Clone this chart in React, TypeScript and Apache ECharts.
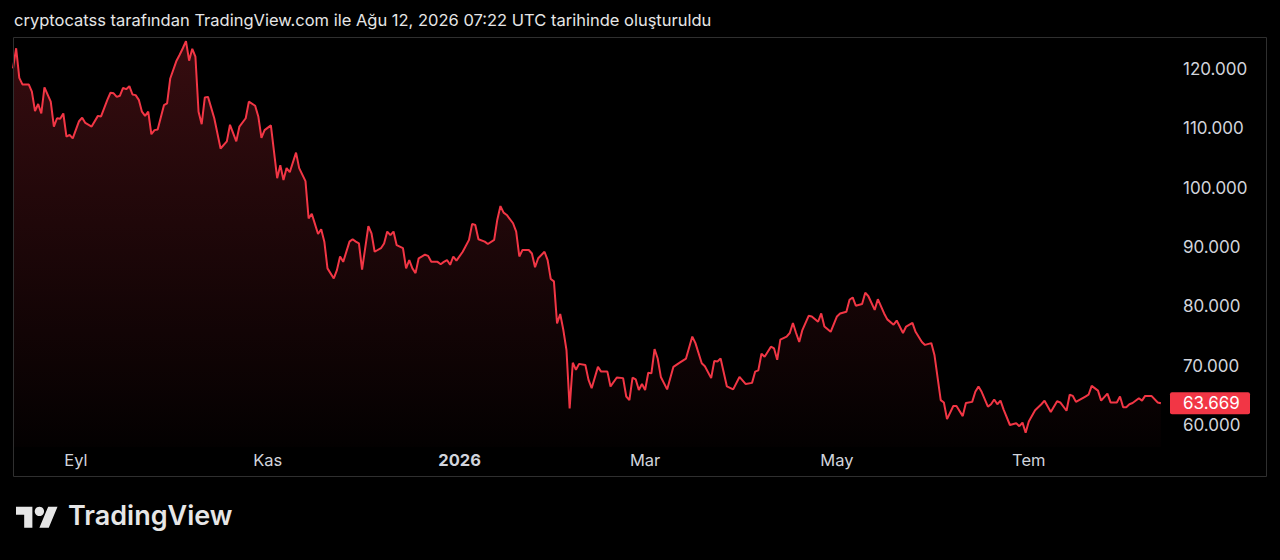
import React, { useEffect, useRef } from 'react';
import * as echarts from 'echarts';

const BASE = Date.UTC(2025, 7, 1);
const DAY = 86400000;

// days since 2025-08-01
const days = [
  11, 12, 13, 14, 16, 17, 18, 19, 20, 21,
  23, 24, 25, 26, 27, 28, 29, 30, 32, 33,
  34, 36, 38, 39, 41, 42, 43, 44, 45, 46,
  47, 48, 49, 50, 51, 52, 53, 54, 55, 56,
  57, 59, 60, 61, 63, 64, 65, 66, 67, 68,
  69, 70, 71, 72, 73, 75, 77, 79, 80, 82,
  83, 85, 86, 88, 89, 90, 91, 93, 95, 96,
  97, 98, 99, 101, 102, 104, 105, 106, 107, 108,
  109, 110, 111, 113, 114, 115, 116, 118, 119, 120,
  121, 122, 124, 125, 126, 128, 129, 130, 131, 132,
  133, 135, 136, 137, 138, 139, 140, 142, 143, 144,
  146, 147, 148, 149, 150, 151, 152, 154, 156, 157,
  158, 159, 161, 162, 164, 165, 166, 167, 168, 170,
  171, 172, 173, 175, 176, 177, 178, 180, 181, 182,
  183, 184, 185, 186, 187, 188, 189, 190, 191, 193,
  194, 195, 197, 198, 200, 201, 203, 205, 206, 207,
  208, 209, 210, 211, 212, 213, 214, 215, 216, 217,
  219, 221, 223, 225, 227, 228, 230, 231, 233, 234,
  235, 236, 238, 240, 242, 244, 246, 247, 248, 249,
  250, 252, 253, 254, 255, 257, 258, 259, 260, 261,
  262, 264, 265, 267, 268, 269, 271, 273, 274, 276,
  277, 278, 279, 281, 282, 283, 285, 286, 288, 289,
  291, 292, 294, 295, 297, 298, 300, 301, 303, 304,
  306, 307, 308, 310, 311, 313, 314, 316, 317, 318,
  319, 321, 322, 323, 324, 325, 326, 328, 330, 331,
  332, 333, 334, 336, 338, 339, 341, 343, 344, 346,
  347, 348, 349, 350, 352, 353, 354, 356, 357, 359,
  360, 362, 363, 364, 365, 366, 367, 369, 370, 371,
  373, 375, 376,
];

// price, thousands
const prices = [
  120.1, 123.5, 118.5, 117.4, 117.4, 116.2, 112.9, 114.1, 112.5, 116.9,
  114.5, 110.3, 111.7, 111.6, 112.5, 108.6, 108.9, 108.3, 111.2, 111.8,
  110.9, 110.3, 112.1, 112.0, 114.8, 116.0, 115.9, 115.3, 115.5, 116.8,
  116.6, 117.1, 115.7, 115.6, 114.8, 112.8, 112.1, 112.8, 109.0, 109.7,
  109.8, 113.9, 114.2, 118.4, 121.4, 122.4, 123.5, 124.7, 121.4, 123.4,
  122.1, 112.8, 110.7, 115.2, 115.3, 111.7, 106.6, 107.8, 110.6, 107.8,
  110.3, 111.7, 114.5, 113.8, 112.0, 108.4, 109.7, 110.5, 101.6, 103.8,
  101.3, 103.3, 102.6, 105.9, 103.3, 101.1, 94.8, 95.6, 93.9, 92.2,
  93.0, 90.9, 86.4, 84.7, 86.1, 88.4, 87.5, 90.9, 91.3, 90.9,
  90.6, 86.2, 93.5, 92.3, 89.2, 89.8, 90.6, 92.6, 92.0, 92.6,
  90.3, 89.8, 86.4, 87.8, 86.4, 85.6, 88.1, 88.7, 88.5, 87.5,
  87.5, 87.1, 87.5, 87.8, 87.0, 88.4, 87.7, 89.2, 91.2, 93.9,
  93.7, 91.3, 90.9, 90.5, 91.2, 94.6, 96.9, 95.8, 95.4, 94.0,
  92.6, 88.4, 89.5, 89.5, 88.9, 86.6, 88.1, 89.2, 87.8, 84.6,
  84.2, 77.1, 78.7, 76.0, 72.6, 62.8, 70.5, 69.3, 70.3, 70.1,
  67.6, 66.2, 69.8, 69.0, 69.0, 66.5, 68.0, 67.9, 64.8, 64.2,
  68.0, 67.7, 65.9, 66.9, 65.9, 68.8, 68.7, 72.8, 71.2, 68.1,
  66.0, 69.8, 70.5, 71.2, 74.9, 73.8, 70.4, 69.9, 67.9, 70.8,
  70.7, 71.2, 66.5, 66.0, 68.1, 66.9, 67.1, 69.0, 69.2, 72.0,
  71.5, 73.2, 72.9, 71.0, 74.4, 74.9, 75.5, 77.2, 75.5, 74.0,
  76.0, 78.4, 78.3, 77.4, 78.8, 76.6, 75.7, 78.3, 78.8, 79.1,
  81.1, 81.5, 80.1, 80.4, 82.3, 81.7, 79.4, 81.2, 78.8, 77.8,
  76.9, 77.6, 75.5, 76.6, 77.2, 75.7, 74.0, 73.5, 73.8, 71.8,
  64.2, 63.8, 61.0, 63.2, 63.2, 61.5, 63.7, 63.9, 65.6, 66.5,
  65.6, 63.1, 63.5, 64.3, 63.5, 64.1, 62.6, 60.0, 60.3, 59.8,
  60.4, 58.7, 60.6, 62.5, 63.5, 64.1, 62.2, 64.0, 63.8, 62.4,
  65.1, 64.9, 63.9, 64.2, 64.8, 65.1, 66.6, 65.8, 64.1, 65.3,
  63.8, 63.8, 64.8, 63.0, 63.0, 63.5, 63.7, 64.5, 64.1, 64.9,
  64.9, 63.8, 63.669,
];

const monthTicks = ['2025-09-01', '2025-11-01', '2026-01-01', '2026-03-01', '2026-05-01', '2026-07-01'];
const monthNames = ['Oca', 'Şub', 'Mar', 'Nis', 'May', 'Haz', 'Tem', 'Ağu', 'Eyl', 'Eki', 'Kas', 'Ara'];
const lastPrice = 63.669;
const title = 'cryptocatss tarafından TradingView.com ile Ağu 12, 2026 07:22 UTC tarihinde oluşturuldu';

const RED = '#f23645';
const FONT = 'Inter, "Noto Sans", sans-serif';
const LABEL = '#d1d4dc';
const AXIS_FONT = 17;

echarts.graphic.registerShape(
  'tvLogo',
  echarts.graphic.extendPath('M14 22H7V11H0V4h14v18zM28 22h-8l7.5-18h8L28 22z', {})
);

function fmt(v: number) {
  return v.toFixed(3);
}

export default function App() {
  const ref = useRef<HTMLDivElement>(null);
  useEffect(() => {
    if (!ref.current) return;
    const chart = echarts.init(ref.current, null, { renderer: 'svg' });
    const data = days.map((d, i) => [BASE + d * DAY, prices[i]]);
    chart.setOption({
      animation: false,
      backgroundColor: '#000',
      textStyle: { fontFamily: FONT },
      grid: { left: 13, right: 110, top: 9.67, bottom: 75.67 },
      xAxis: {
        type: 'time',
        min: BASE + 11 * DAY,
        max: BASE + 378.9 * DAY,
        axisLine: { show: false },
        axisTick: { show: false },
        splitLine: { show: false },
        axisLabel: { show: false },
      },
      yAxis: {
        type: 'value',
        position: 'right',
        min: 50,
        max: 130,
        interval: 10,
        axisLine: { show: false },
        axisTick: { show: false },
        splitLine: { show: false },
        axisLabel: {
          showMinLabel: false,
          showMaxLabel: false,
          color: LABEL,
          fontSize: AXIS_FONT,
          margin: 13,
          align: 'left',
          formatter: (v: number) => fmt(v),
        },
      },
      series: [
        {
          type: 'line',
          data,
          showSymbol: false,
          symbol: 'none',
          lineStyle: { color: RED, width: 2 },
          areaStyle: {
            origin: 56.3,
            color: new echarts.graphic.LinearGradient(0, 0, 0, 1, [
              { offset: 0, color: 'rgba(242,54,69,0.32)' },
              { offset: 1, color: 'rgba(242,54,69,0.02)' },
            ]),
          },
        },
      ],
    });

    // month labels placed through the time scale
    const monthLabels = monthTicks.map((s) => {
      const ts = Date.parse(s + 'T00:00:00Z');
      const d = new Date(ts);
      const isYear = d.getUTCMonth() === 0;
      const x = chart.convertToPixel({ xAxisIndex: 0 }, ts) as number;
      return {
        type: 'text',
        x,
        y: 460,
        style: {
          text: isYear ? String(d.getUTCFullYear()) : monthNames[d.getUTCMonth()],
          fill: LABEL,
          fontSize: 16.5,
          fontWeight: isYear ? 'bold' : 'normal',
          fontFamily: FONT,
          align: 'center',
          verticalAlign: 'middle',
        },
      };
    });

    // last price tag on the price scale
    const tagY = chart.convertToPixel({ yAxisIndex: 0 }, lastPrice) as number;

    chart.setOption({
      graphic: [
        {
          type: 'text',
          left: 14,
          top: 11,
          style: { text: title, fill: '#e6e6e6', fontSize: 16.5, fontFamily: FONT },
        },
        {
          type: 'rect',
          z: 100,
          shape: { x: 13.5, y: 37.5, width: 1253, height: 439 },
          style: { fill: 'none', stroke: '#2f2f2f', lineWidth: 1 },
        },
        ...monthLabels,
        {
          type: 'rect',
          z: 50,
          shape: { x: 1170, y: tagY - 11, width: 80, height: 22, r: 2 },
          style: { fill: RED },
        },
        {
          type: 'text',
          z: 51,
          x: 1183,
          y: tagY,
          style: {
            text: fmt(lastPrice),
            fill: '#fff',
            fontSize: AXIS_FONT,
            fontFamily: FONT,
            align: 'left',
            verticalAlign: 'middle',
          },
        },
        {
          type: 'tvLogo',
          x: 16,
          y: 502,
          scaleX: 1.17,
          scaleY: 1.17,
          style: { fill: '#e6e6e6' },
        },
        {
          type: 'circle',
          shape: { cx: 16 + 20 * 1.17, cy: 502 + 8 * 1.17, r: 4 * 1.17 },
          style: { fill: '#e6e6e6' },
        },
        {
          type: 'text',
          left: 68,
          top: 502,
          style: { text: 'TradingView', fill: '#e6e6e6', fontSize: 27, fontWeight: 600, fontFamily: FONT },
        },
      ],
    });
    return () => chart.dispose();
  }, []);
  return <div ref={ref} style={{ position: 'fixed', left: 0, top: 0, width: 1280, height: 560 }} />;
}
